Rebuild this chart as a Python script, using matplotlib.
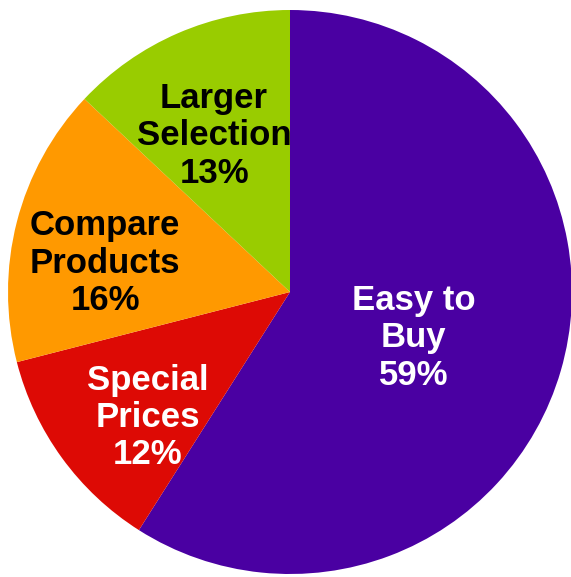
import numpy as np
import matplotlib.pyplot as plt

labels = ["Easy to\nBuy", "Special\nPrices", "Compare\nProducts", "Larger\nSelection"]
shares = [59, 12, 16, 13]
colors = ["#4A00A2", "#DD0A05", "#FF9900", "#99CC00"]
text_colors = ["white", "white", "black", "black"]
label_radius = [0.465, 0.665, 0.665, 0.625]
label_turn = [-2.9, 4.7, 4.6, 2.1]  # degrees, nudges label off the wedge bisector

fig = plt.figure(figsize=(5.71, 5.77), dpi=100)
ax = fig.add_axes([0, 0, 1, 1])

wedges, _ = ax.pie(shares, colors=colors, startangle=90, counterclock=False,
                   radius=1.0, center=(0, 0), frame=True,
                   wedgeprops=dict(linewidth=0))

for w, lab, val, tc, rr, dt in zip(wedges, labels, shares, text_colors,
                                   label_radius, label_turn):
    mid = np.deg2rad((w.theta1 + w.theta2) / 2 + dt)
    ax.text(rr * np.cos(mid), rr * np.sin(mid) - 3 / 282, f"{lab}\n{val}%",
            ha="center", va="center", fontsize=25, fontweight="bold",
            color=tc, family="Liberation Sans", linespacing=1.16)

# pie center sits at (290, 292) px from the top-left, radius ~282 px
ax.set_xlim(-290 / 282, 281 / 282)
ax.set_ylim(-285 / 282, 292 / 282)
ax.set_aspect("equal")
ax.axis("off")

fig.savefig("out.png", dpi=100)
